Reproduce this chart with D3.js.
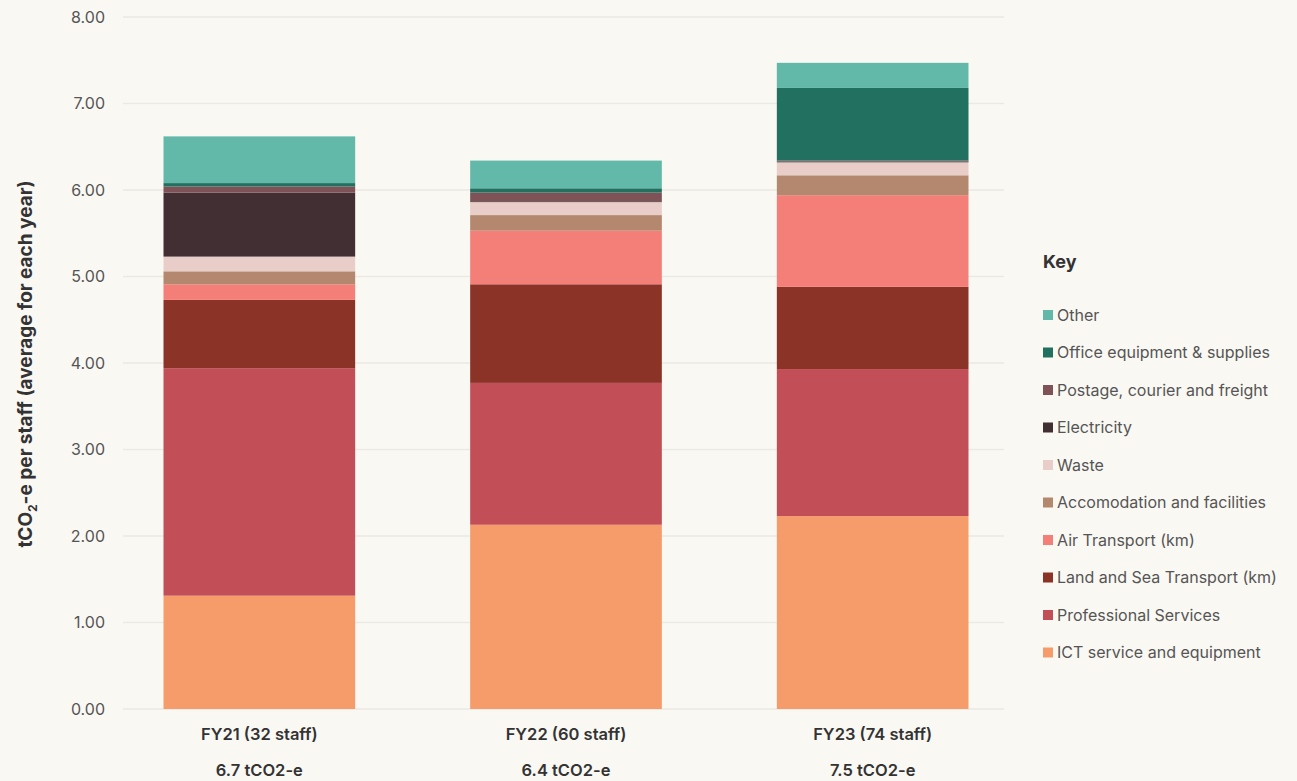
<!DOCTYPE html>
<html>
<head>
<meta charset="utf-8">
<script src="https://cdn.jsdelivr.net/npm/d3@7"></script>
<style>
  body { margin: 0; background: #faf8f3; }
  svg { display: block; font-family: "Inter", "Noto Sans", sans-serif; }
</style>
</head>
<body>
<svg id="chart" width="1297" height="781"></svg>
<script>
// data (tCO2-e per staff)
let years = ["FY21 (32 staff)", "FY22 (60 staff)", "FY23 (74 staff)"];
let totals = ["6.7 tCO2-e", "6.4 tCO2-e", "7.5 tCO2-e"];
let categories = ["ICT service and equipment", "Professional Services", "Land and Sea Transport (km)",
    "Air Transport (km)", "Accomodation and facilities", "Waste", "Electricity",
    "Postage, courier and freight", "Office equipment & supplies", "Other"];
let colours = ["#f59c6a", "#c24f58", "#8c3328", "#f47f79", "#b3886e", "#e8cdc8", "#412f33",
    "#7e5256", "#217060", "#62b9a9"];
let ict = [1.31, 2.13, 2.23];
let professional = [2.63, 1.64, 1.70];
let landSea = [0.79, 1.14, 0.95];
let air = [0.18, 0.62, 1.06];
let accomodation = [0.15, 0.18, 0.23];
let waste = [0.17, 0.15, 0.15];
let electricity = [0.74, 0.01, 0.01];
let postage = [0.07, 0.10, 0.01];
let office = [0.04, 0.05, 0.84];
let other = [0.54, 0.32, 0.29];
let yTicks = [0, 1, 2, 3, 4, 5, 6, 7, 8];

let series = [ict, professional, landSea, air, accomodation, waste, electricity, postage, office, other];

// table for d3.stack
let table = years.map(function(yr, i) {
    let row = { year: yr };
    categories.forEach(function(c, k) { row[c] = series[k][i]; });
    return row;
});

let chart = d3.select("#chart");

let x = d3.scaleBand()
    .domain(years)
    .range([106, 1026])
    .paddingInner(0.375)
    .paddingOuter(0.1875);

let y = d3.scaleLinear()
    .domain([0, 8])
    .range([709, 17]);

//gridlines + tick labels
let g = chart.append("g");
g.selectAll(".grid")
    .data(yTicks)
    .enter()
    .append("line")
        .attr("x1", 123)
        .attr("x2", 1004)
        .attr("y1", function(d) { return y(d); })
        .attr("y2", function(d) { return y(d); })
        .attr("stroke", "#ebe9e4")
        .attr("stroke-width", 1.5);

g.selectAll(".tick-label")
    .data(yTicks)
    .enter()
    .append("text")
        .attr("x", 105)
        .attr("y", function(d) { return y(d); })
        .attr("dy", "0.35em")
        .attr("text-anchor", "end")
        .attr("font-size", "16px")
        .attr("fill", "#555")
        .text(function(d) { return d3.format(".2f")(d); });

//y axis title with subscript
let yt = chart.append("text")
    .attr("transform", "translate(32,364) rotate(-90)")
    .attr("text-anchor", "middle")
    .attr("font-size", "19px")
    .attr("font-weight", "bold")
    .attr("fill", "#333");
yt.append("tspan").text("tCO");
yt.append("tspan").attr("font-size", "12px").attr("dy", 5).text("2");
yt.append("tspan").attr("dy", -5).text("-e per staff (average for each year)");

//stacked bars
let stack = d3.stack().keys(categories);
let layers = stack(table);

chart.selectAll(".layer")
    .data(layers)
    .enter()
    .append("g")
        .attr("fill", function(d, i) { return colours[i]; })
    .selectAll("rect")
    .data(function(d) { return d; })
    .enter()
    .append("rect")
        .attr("x", function(d) { return x(d.data.year); })
        .attr("y", function(d) { return y(d[1]); })
        .attr("width", x.bandwidth())
        .attr("height", function(d) { return y(d[0]) - y(d[1]); });

//x labels
chart.selectAll(".xlab")
    .data(years)
    .enter()
    .append("text")
        .attr("x", function(d) { return x(d) + x.bandwidth() / 2; })
        .attr("y", 740)
        .attr("text-anchor", "middle")
        .attr("font-size", "16.5px")
        .attr("font-weight", 600)
        .attr("fill", "#333")
        .text(function(d) { return d; });

chart.selectAll(".totlab")
    .data(totals)
    .enter()
    .append("text")
        .attr("x", function(d, i) { return x(years[i]) + x.bandwidth() / 2; })
        .attr("y", 776)
        .attr("text-anchor", "middle")
        .attr("font-size", "16.5px")
        .attr("font-weight", 600)
        .attr("fill", "#333")
        .text(function(d) { return d; });

//legend
let legend = chart.append("g").attr("transform", "translate(1043,0)");
legend.append("text")
    .attr("x", 0)
    .attr("y", 268)
    .attr("font-size", "18px")
    .attr("font-weight", "bold")
    .attr("fill", "#333")
    .text("Key");

let legendOrder = categories.slice().reverse();
let legendColours = colours.slice().reverse();

legend.selectAll(".sw")
    .data(legendOrder)
    .enter()
    .append("rect")
        .attr("x", 0)
        .attr("y", function(d, i) { return 310 + i * 37.5; })
        .attr("width", 10)
        .attr("height", 10)
        .attr("fill", function(d, i) { return legendColours[i]; });

legend.selectAll(".lt")
    .data(legendOrder)
    .enter()
    .append("text")
        .attr("x", 14)
        .attr("y", function(d, i) { return 315 + i * 37.5; })
        .attr("dy", "0.35em")
        .attr("font-size", "16px")
        .attr("fill", "#555")
        .text(function(d) { return d; });
</script>
</body>
</html>
